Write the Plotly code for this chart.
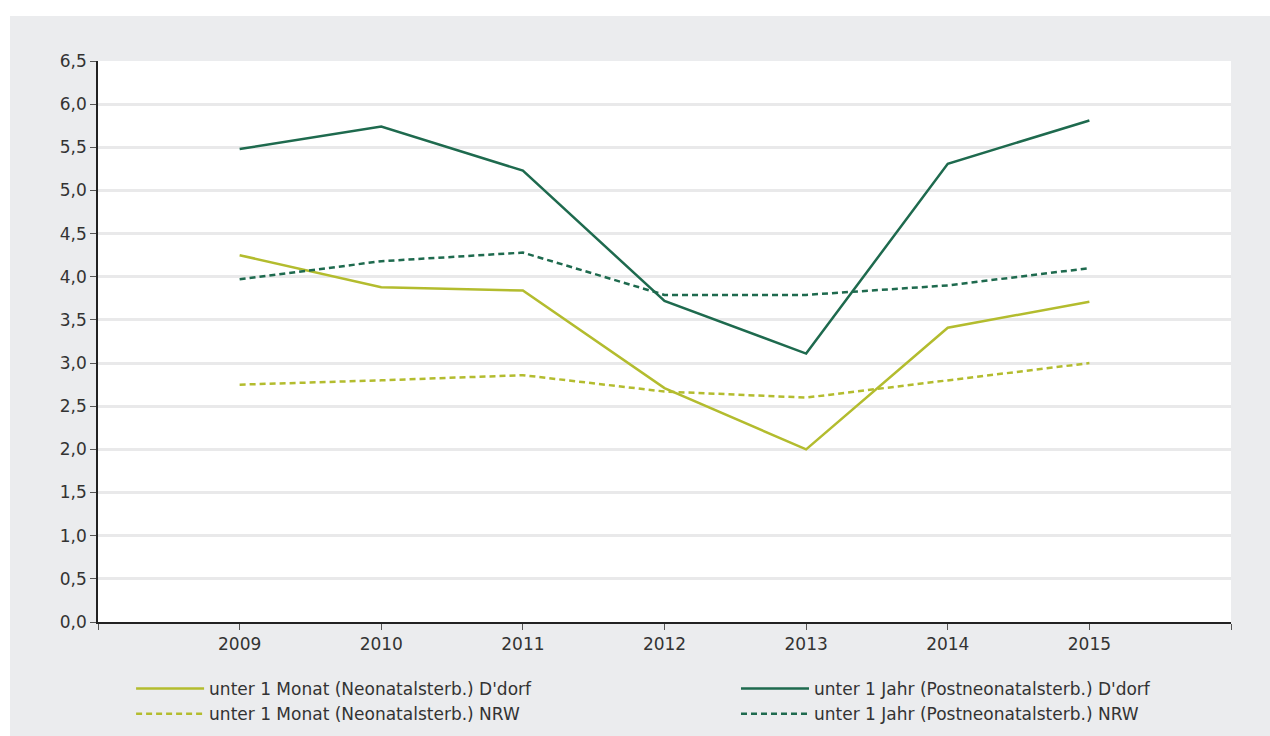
import plotly.graph_objects as go

years = [2009, 2010, 2011, 2012, 2013, 2014, 2015]
monat_ddorf = [4.25, 3.88, 3.84, 2.71, 2.00, 3.41, 3.71]
monat_nrw = [2.75, 2.80, 2.86, 2.67, 2.60, 2.80, 3.00]
jahr_ddorf = [5.48, 5.74, 5.23, 3.72, 3.11, 5.31, 5.81]
jahr_nrw = [3.97, 4.18, 4.28, 3.79, 3.79, 3.90, 4.10]

names = [
    "unter 1 Monat (Neonatalsterb.) D'dorf",
    "unter 1 Monat (Neonatalsterb.) NRW",
    "unter 1 Jahr (Postneonatalsterb.) D'dorf",
    "unter 1 Jahr (Postneonatalsterb.) NRW",
]
x_tickvals = [2008, 2009, 2010, 2011, 2012, 2013, 2014, 2015, 2016]
x_ticktext = ["", "2009", "2010", "2011", "2012", "2013", "2014", "2015", ""]
y_tickvals = [0, 0.5, 1, 1.5, 2, 2.5, 3, 3.5, 4, 4.5, 5, 5.5, 6, 6.5]

LIGHT = "#b3bc2e"
DARK = "#1e6a4e"
BG = "#ebecee"
FONT = "DejaVu Sans, Verdana, sans-serif"
TXT = "#333333"

fig = go.Figure()
series = [
    (monat_ddorf, names[0], LIGHT, "solid", "legend"),
    (monat_nrw, names[1], LIGHT, "6px,4px", "legend"),
    (jahr_ddorf, names[2], DARK, "solid", "legend2"),
    (jahr_nrw, names[3], DARK, "6px,4px", "legend2"),
]
for vals, name, col, dash, lg in series:
    fig.add_trace(go.Scatter(x=years, y=vals, name=name, mode="lines", legend=lg,
                             line=dict(color=col, width=2.5, dash=dash)))

legend_common = dict(orientation="v", xanchor="left", y=-0.0873, yanchor="top",
                     font=dict(family=FONT, size=17, color=TXT),
                     bgcolor="rgba(0,0,0,0)", tracegroupgap=0, itemwidth=68)

fig.update_layout(
    width=1270, height=736,
    margin=dict(l=98, r=39, t=61, b=114, autoexpand=False),
    paper_bgcolor=BG, plot_bgcolor="white",
    separators=",.",
    font=dict(family=FONT, size=17, color=TXT),
    showlegend=True,
    legend=dict(x=0.0292, **legend_common),
    legend2=dict(x=0.5631, **legend_common),
    shapes=[
        dict(type="rect", xref="paper", yref="paper", x0=-0.2, x1=1.2, y0=1.0802, y1=1.3,
             fillcolor="white", line=dict(width=0), layer="above"),
        dict(type="rect", xref="paper", yref="paper", x0=-0.2, x1=-0.0777, y0=-0.4, y1=1.3,
             fillcolor="white", line=dict(width=0), layer="above"),
    ],
)
fig.update_xaxes(range=[2008, 2016], tickvals=x_tickvals, ticktext=x_ticktext,
                 showgrid=False, showline=True, linecolor="#222222", linewidth=1.5,
                 ticks="outside", ticklen=6, tickcolor="#555555", zeroline=False,
                 tickfont=dict(family=FONT, size=17, color=TXT))
fig.update_yaxes(range=[0, 6.5], tickvals=y_tickvals, tickformat=".1f",
                 showgrid=True, gridcolor="#e9e9ea", gridwidth=2.5,
                 showline=True, linecolor="#222222", linewidth=1.5,
                 ticks="outside", ticklen=6, tickcolor="#555555", zeroline=False,
                 tickfont=dict(family=FONT, size=17, color=TXT))

fig.write_html("out.html", config={"displayModeBar": False},
               post_script="document.body.style.margin='0';document.body.style.overflow='hidden';")
